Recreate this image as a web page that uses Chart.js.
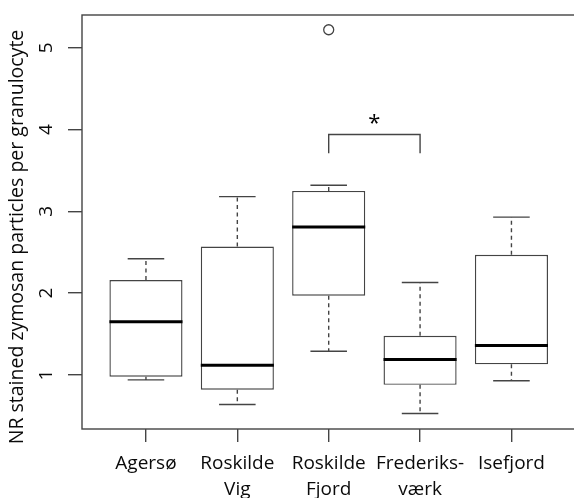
<!DOCTYPE html>
<html>
<head>
<meta charset="utf-8">
<script src="https://cdn.jsdelivr.net/npm/chart.js@4"></script>
<style>
  html, body { margin: 0; padding: 0; background: #fff; overflow: hidden; }
  #chart { display: block; }
</style>
</head>
<body>
<canvas id="chart" width="580" height="498"></canvas>
<script>
// Values
const categories = ['Agersø', ['Roskilde', 'Vig'], ['Roskilde', 'Fjord'], ['Frederiks-', 'værk'], 'Isefjord'];
const whiskerLow = [0.94, 0.64, 1.29, 0.53, 0.93];
const lowerQuartile = [0.98, 0.82, 1.97, 0.88, 1.13];
const medians = [1.65, 1.12, 2.81, 1.19, 1.36];
const upperQuartile = [2.16, 2.57, 3.25, 1.48, 2.47];
const whiskerHigh = [2.42, 3.18, 3.32, 2.13, 2.93];
const outliers = [{x: 3, y: 5.22}];
const yTicks = [1, 2, 3, 4, 5];
// significance bracket between group 3 and 4
const bracketFrom = 3, bracketTo = 4, bracketBase = 3.71, bracketTop = 3.94, starLevel = 4.12;

const lineColor = '#444';
const textColor = '#0a0a0a';
const fontFamily = '"Open Sans", sans-serif';

const boxExtras = {
  id: 'boxExtras',
  afterDatasetsDraw(chart) {
    const {ctx, chartArea, scales: {x, y}} = chart;
    const boxes = chart.getDatasetMeta(0).data;
    ctx.save();
    ctx.strokeStyle = lineColor;
    ctx.lineWidth = 1.4;

    boxes.forEach(function (el, i) {
      const cx = x.getPixelForValue(i + 1);
      const half = el.width / 2;

      // dashed whiskers
      ctx.setLineDash([4, 3.5]);
      ctx.beginPath();
      ctx.moveTo(cx, y.getPixelForValue(upperQuartile[i]));
      ctx.lineTo(cx, y.getPixelForValue(whiskerHigh[i]));
      ctx.moveTo(cx, y.getPixelForValue(lowerQuartile[i]));
      ctx.lineTo(cx, y.getPixelForValue(whiskerLow[i]));
      ctx.stroke();
      ctx.setLineDash([]);

      // staples
      ctx.beginPath();
      ctx.moveTo(cx - half / 2, y.getPixelForValue(whiskerHigh[i]));
      ctx.lineTo(cx + half / 2, y.getPixelForValue(whiskerHigh[i]));
      ctx.moveTo(cx - half / 2, y.getPixelForValue(whiskerLow[i]));
      ctx.lineTo(cx + half / 2, y.getPixelForValue(whiskerLow[i]));
      ctx.stroke();

      // median
      ctx.save();
      ctx.strokeStyle = '#000';
      ctx.lineWidth = 3;
      ctx.beginPath();
      ctx.moveTo(cx - half, y.getPixelForValue(medians[i]));
      ctx.lineTo(cx + half, y.getPixelForValue(medians[i]));
      ctx.stroke();
      ctx.restore();
    });

    // bracket + star
    const bx1 = x.getPixelForValue(bracketFrom);
    const bx2 = x.getPixelForValue(bracketTo);
    ctx.beginPath();
    ctx.moveTo(bx1, y.getPixelForValue(bracketBase));
    ctx.lineTo(bx1, y.getPixelForValue(bracketTop));
    ctx.lineTo(bx2, y.getPixelForValue(bracketTop));
    ctx.lineTo(bx2, y.getPixelForValue(bracketBase));
    ctx.stroke();
    ctx.fillStyle = '#000';
    ctx.font = '22px ' + fontFamily;
    ctx.textAlign = 'center';
    ctx.textBaseline = 'middle';
    ctx.fillText('*', x.getPixelForValue((bracketFrom + bracketTo) / 2), y.getPixelForValue(starLevel) + 4);

    // frame (right side falls just outside the picture, as in the original)
    ctx.strokeRect(chartArea.left, chartArea.top, chartArea.right - chartArea.left, chartArea.bottom - chartArea.top);

    // y tick labels, parallel to the axis
    ctx.fillStyle = textColor;
    ctx.font = '19px ' + fontFamily;
    y.ticks.forEach(function (t) {
      ctx.save();
      ctx.translate(chartArea.left - 35, y.getPixelForValue(t.value));
      ctx.rotate(-Math.PI / 2);
      ctx.fillText(String(t.value), 0, 0);
      ctx.restore();
    });

    // y title
    ctx.save();
    ctx.font = '19.5px ' + fontFamily;
    ctx.translate(17, (chartArea.top + chartArea.bottom) / 2 + 15);
    ctx.rotate(-Math.PI / 2);
    ctx.fillText('NR stained zymosan particles per granulocyte', 0, 0);
    ctx.restore();

    ctx.restore();
  }
};

const boxData = categories.map(function (c, i) {
  return {x: i + 1, y: [lowerQuartile[i], upperQuartile[i]]};
});

new Chart(document.getElementById('chart'), {
  type: 'bar',
  data: {
    datasets: [{
      data: boxData,
      backgroundColor: '#fff',
      borderColor: lineColor,
      borderWidth: 1.4,
      borderSkipped: false,
      barPercentage: 0.8,
      categoryPercentage: 1
    }, {
      type: 'scatter',
      data: outliers,
      pointRadius: 5,
      pointBackgroundColor: '#fff',
      pointBorderColor: lineColor,
      pointBorderWidth: 1.3
    }]
  },
  options: {
    responsive: false,
    animation: false,
    devicePixelRatio: 1,
    layout: { autoPadding: false, padding: { top: 15, right: 4.6, left: 0, bottom: 0 } },
    plugins: {
      legend: { display: false },
      tooltip: { enabled: false }
    },
    scales: {
      x: {
        type: 'linear',
        min: 0.3,
        max: 5.7,
        offset: false,
        afterBuildTicks: function (s) {
          s.ticks = categories.map(function (c, i) { return {value: i + 1}; });
        },
        afterFit: function (s) {
          s.height = 69;
          s.paddingLeft = 0;
          s.paddingRight = 0;
        },
        border: { display: false },
        grid: { offset: false, drawOnChartArea: false, tickLength: 13, color: lineColor, lineWidth: 1.4 },
        ticks: {
          autoSkip: false,
          maxRotation: 0,
          padding: 8,
          color: textColor,
          font: { family: fontFamily, size: 19, lineHeight: 1.4 },
          callback: function (value) { return categories[Math.round(value) - 1]; }
        }
      },
      y: {
        min: 0.34,
        max: 5.4,
        afterBuildTicks: function (s) {
          s.ticks = yTicks.map(function (v) { return {value: v}; });
        },
        afterFit: function (s) {
          s.width = 82;
          s.paddingTop = 0;
          s.paddingBottom = 0;
        },
        border: { display: false },
        grid: { drawOnChartArea: false, tickLength: 14, color: lineColor, lineWidth: 1.4 },
        ticks: { display: false }
      }
    }
  },
  plugins: [boxExtras]
});
</script>
</body>
</html>
